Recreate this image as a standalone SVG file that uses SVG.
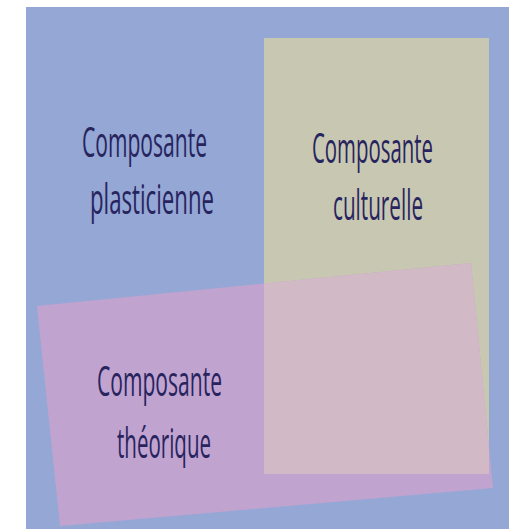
<svg xmlns="http://www.w3.org/2000/svg" width="524" height="529" viewBox="0 0 524 529">
  <style>
    .lbl { font-family: "Open Sans", "Noto Sans", "Liberation Sans", sans-serif; font-size: 42px; fill: #27245e; }
  </style>
  <defs>
    <clipPath id="pinkClip">
      <polygon points="37,306 471,263 493,488 60,526"/>
    </clipPath>
  </defs>
  <rect x="0" y="0" width="524" height="529" fill="#ffffff"/>
  <g id="plasticienne">
    <rect x="26" y="7" width="483" height="530" fill="#94a7d5"/>
    <text class="lbl" transform="translate(82,157) scale(0.5,1)" x="0" y="0" textLength="250" lengthAdjust="spacingAndGlyphs">Composante</text>
    <text class="lbl" transform="translate(90,214) scale(0.5,1)" x="0" y="0" textLength="248" lengthAdjust="spacingAndGlyphs">plasticienne</text>
  </g>
  <g id="culturelle">
    <rect x="264" y="38" width="225" height="436" fill="#c8c8b2"/>
    <text class="lbl" transform="translate(312,163) scale(0.5,1)" x="0" y="0" textLength="242" lengthAdjust="spacingAndGlyphs">Composante</text>
    <text class="lbl" transform="translate(333,220) scale(0.5,1)" x="0" y="0" textLength="180" lengthAdjust="spacingAndGlyphs">culturelle</text>
  </g>
  <g id="theorique">
    <polygon points="37,306 471,263 493,488 60,526" fill="#c1a3d0"/>
    <rect id="overlap" x="264" y="38" width="225" height="436" fill="#d1b9c5" clip-path="url(#pinkClip)"/>
    <text class="lbl" transform="translate(97,396) scale(0.5,1)" x="0" y="0" textLength="250" lengthAdjust="spacingAndGlyphs">Composante</text>
    <text class="lbl" transform="translate(117,458) scale(0.5,1)" x="0" y="0" textLength="188" lengthAdjust="spacingAndGlyphs">théorique</text>
  </g>
  <g id="connectors"/>
</svg>
